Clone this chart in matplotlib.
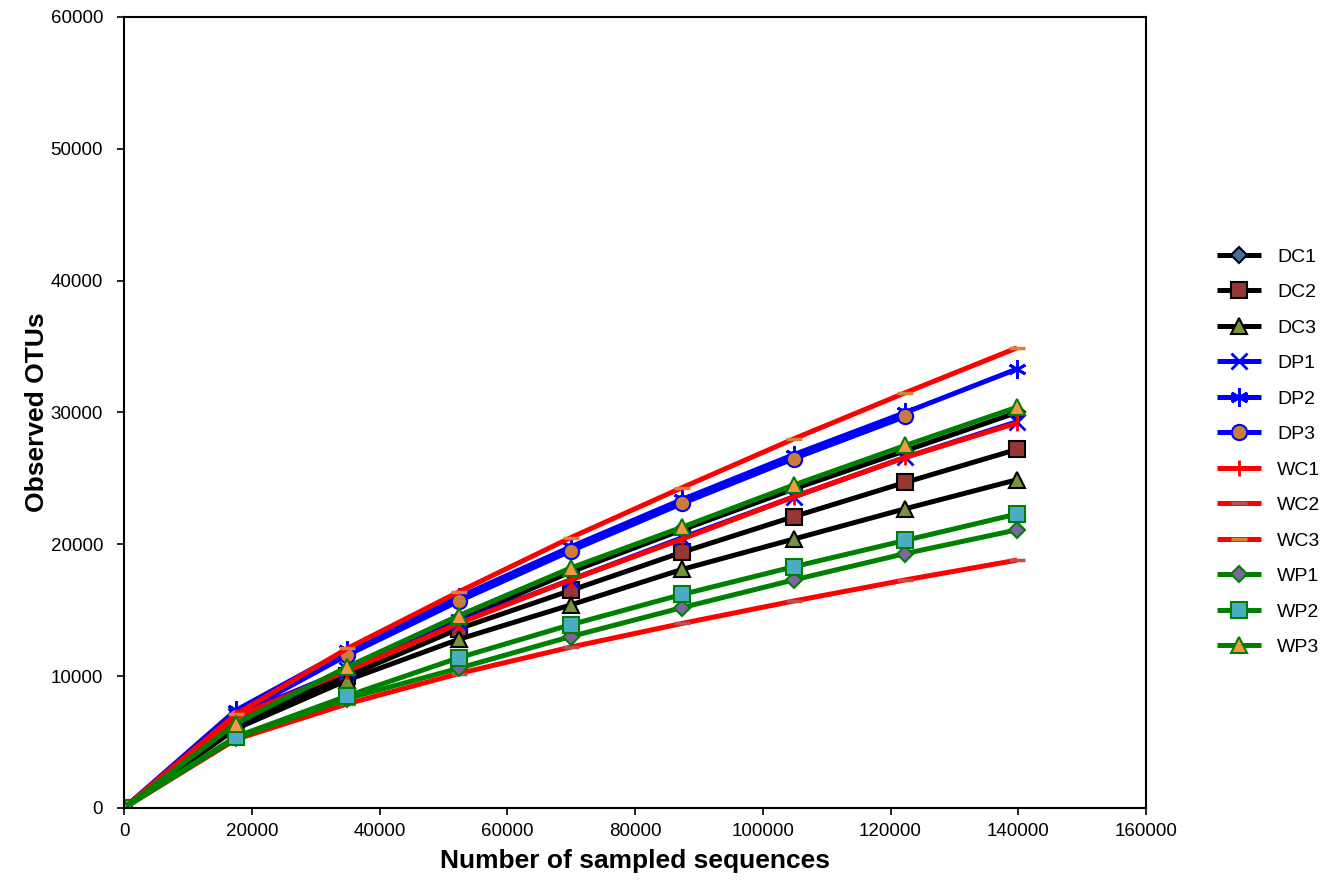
import matplotlib
matplotlib.use('Agg')
import matplotlib.pyplot as plt

plt.rcParams['font.family'] = ['Liberation Sans', 'DejaVu Sans']

# Data
seqs = [0, 17475, 34950, 52425, 69900, 87375, 104850, 122325, 139800]

DC1 = [0, 6600, 10300, 14300, 17900, 21100, 24200, 27100, 30000]
DC2 = [0, 6300, 10000, 13600, 16500, 19400, 22100, 24700, 27200]
DC3 = [0, 6000, 9700, 12800, 15400, 18100, 20400, 22700, 24900]
DP1 = [0, 7000, 10500, 14100, 17300, 20500, 23600, 26600, 29300]
DP2 = [0, 7400, 12000, 16000, 19800, 23400, 26800, 30000, 33300]
DP3 = [0, 7000, 11600, 15700, 19500, 23100, 26500, 29700]
WC1 = [0, 6900, 10400, 14000, 17300, 20400, 23600, 26600, 29200]
WC2 = [0, 5200, 7900, 10200, 12200, 14000, 15700, 17300, 18800]
WC3 = [0, 7100, 12100, 16400, 20500, 24300, 28000, 31500, 34900]
WP1 = [0, 5300, 8300, 10600, 13000, 15200, 17300, 19300, 21100]
WP2 = [0, 5400, 8500, 11400, 13900, 16200, 18300, 20300, 22300]
WP3 = [0, 6400, 10700, 14600, 18200, 21300, 24500, 27500, 30400]

# name, values, line colour, marker, face colour, edge colour, marker size
series = [
    ('DC1', DC1, 'black', 'D', '#3f6fa3', 'black', 8),
    ('DC2', DC2, 'black', 's', '#953735', 'black', 11),
    ('DC3', DC3, 'black', '^', '#77933c', 'black', 12),
    ('DP1', DP1, 'blue', 'x', 'blue', 'blue', 11),
    ('DP2', DP2, 'blue', (6, 2, 0), 'blue', 'blue', 13),
    ('DP3', DP3, 'blue', 'o', '#c87d3c', 'blue', 11),
    ('WC1', WC1, 'red', '|', 'red', 'red', 12),
    ('WC2', WC2, 'red', '_', 'red', '#c0504d', 12),
    ('WC3', WC3, 'red', '_', 'red', '#d9823a', 12),
    ('WP1', WP1, 'green', 'D', '#7f64a1', 'green', 8),
    ('WP2', WP2, 'green', 's', '#4bacc6', 'green', 12),
    ('WP3', WP3, 'green', '^', '#f79646', 'green', 12),
]

fig = plt.figure(figsize=(13.28, 8.88), dpi=100)
ax = fig.add_axes([0.0934, 0.0901, 0.7696, 0.8908])

for name, vals, lc, mk, fc, ec, ms in series:
    xs = seqs[:len(vals)]
    mew = 1.5
    if mk in ('x', '|') or isinstance(mk, tuple):
        mew = 2
    if mk == '_':
        mew = 2.5
    ax.plot(xs, vals, color=lc, lw=3.6, marker=mk, markersize=ms,
            markerfacecolor=fc, markeredgecolor=ec, markeredgewidth=mew,
            label=name, solid_capstyle='butt')

ax.set_xlim(0, 160000)
ax.set_ylim(0, 60000)
ax.set_xticks(range(0, 160001, 20000))
ax.set_yticks(range(0, 60001, 10000))
ax.tick_params(direction='out', length=5, width=1.2, labelsize=13.5)
ax.tick_params(axis='y', pad=10)
ax.tick_params(axis='x', pad=6)
for sp in ax.spines.values():
    sp.set_linewidth(1.5)

ax.set_xlabel('Number of sampled sequences', fontsize=19, fontweight='bold',
              labelpad=6)
ax.set_ylabel('Observed OTUs', fontsize=19, fontweight='bold', labelpad=1)

fig.legend(loc='center left', bbox_to_anchor=(0.903, 0.491), frameon=False,
           fontsize=14, labelspacing=0.92, handlelength=2.3, handletextpad=0.8)

fig.savefig('out.png', dpi=100)
